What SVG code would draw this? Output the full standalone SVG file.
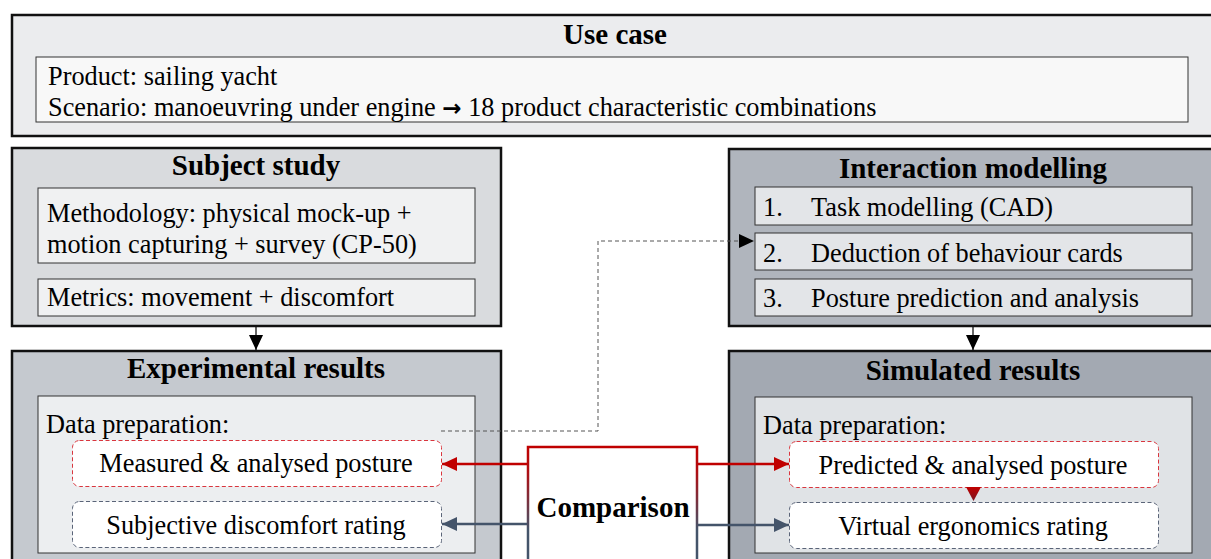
<svg xmlns="http://www.w3.org/2000/svg" width="1211" height="559" viewBox="0 0 1211 559">
<defs>
<style>
text{font-family:"Liberation Serif","Times New Roman",serif}
.outer{stroke:#111;stroke-width:2.5}
.inner{stroke:#333;stroke-width:1}
.ttl{font-weight:bold;font-size:29px;fill:#000;text-anchor:middle}
.txt{font-size:26.3px;fill:#000}
.mid{text-anchor:middle}
.rred{fill:#fff;stroke:#d9363e;stroke-width:1;stroke-dasharray:4 2.5}
.rblue{fill:#fff;stroke:#5a6478;stroke-width:1;stroke-dasharray:4 2.5}
</style>
<linearGradient id="cmpGrad" x1="0" y1="446" x2="0" y2="530" gradientUnits="userSpaceOnUse">
<stop offset="0" stop-color="#c00000"/>
<stop offset="0.3" stop-color="#b00d12"/>
<stop offset="1" stop-color="#44546a"/>
</linearGradient>
<linearGradient id="triGrad" x1="0" y1="0" x2="0" y2="1">
<stop offset="0" stop-color="#c00000"/>
<stop offset="1" stop-color="#7a1520"/>
</linearGradient>
<marker id="hRed" markerWidth="16" markerHeight="14" refX="15" refY="7" orient="auto" markerUnits="userSpaceOnUse">
<path d="M0,0 L15,7 L0,14 Z" fill="#c00000"/>
</marker>
<marker id="hBlue" markerWidth="16" markerHeight="14" refX="15" refY="7" orient="auto" markerUnits="userSpaceOnUse">
<path d="M0,0 L15,7 L0,14 Z" fill="#44546a"/>
</marker>
<marker id="hBlack" markerWidth="16" markerHeight="14" refX="15" refY="7" orient="auto" markerUnits="userSpaceOnUse">
<path d="M0,0 L15,7 L0,14 Z" fill="#000"/>
</marker>
</defs>
<rect width="1211" height="559" fill="#fff"/>
<g font-family="'Liberation Serif', 'Times New Roman', serif">
<g id="use-case">
<rect class="outer" x="12" y="15" width="1210" height="121" fill="#ebecee"/>
<text class="ttl" x="615" y="44">Use case</text>
<rect class="inner" x="36" y="57" width="1152" height="65" fill="#f8f8f8"/>
<text class="txt" x="48" y="85">Product: sailing yacht</text>
<text class="txt" x="48" y="116">Scenario: manoeuvring under engine <tspan font-family="'DejaVu Sans', sans-serif" font-size="23" font-weight="bold">→</tspan> 18 product characteristic combinations</text>
</g>

<g id="subject-study">
<rect class="outer" x="12" y="148" width="489" height="178" fill="#d9dbde"/>
<text class="ttl" x="256" y="175">Subject study</text>
<rect class="inner" x="38" y="188" width="437" height="75" fill="#f0f1f2"/>
<text class="txt" x="47" y="222">Methodology: physical mock-up +</text>
<text class="txt" x="47" y="253">motion capturing + survey (CP-50)</text>
<rect class="inner" x="38" y="279" width="437" height="37" fill="#f0f1f2"/>
<text class="txt" x="47" y="306">Metrics: movement + discomfort</text>
</g>

<g id="interaction-modelling">
<rect class="outer" x="729" y="149" width="495" height="177" fill="#b0b5bd"/>
<text class="ttl" x="973" y="178">Interaction modelling</text>
<rect class="inner" x="755" y="187" width="437" height="38" fill="#e3e5e8"/>
<text class="txt" x="763" y="216">1.</text><text class="txt" x="811" y="216">Task modelling (CAD)</text>
<rect class="inner" x="755" y="233" width="437" height="37" fill="#e3e5e8"/>
<text class="txt" x="763" y="262">2.</text><text class="txt" x="811" y="262">Deduction of behaviour cards</text>
<rect class="inner" x="755" y="279" width="437" height="37" fill="#e3e5e8"/>
<text class="txt" x="763" y="307">3.</text><text class="txt" x="811" y="307">Posture prediction and analysis</text>
</g>

<g id="experimental-results">
<rect class="outer" x="12" y="351" width="489" height="220" fill="#c5c9cf"/>
<text class="ttl" x="256" y="378">Experimental results</text>
<rect class="inner" x="38" y="396" width="437" height="157" fill="#eceef0"/>
<text class="txt" x="46" y="433">Data preparation:</text>
<rect class="rred" x="72.5" y="440.5" width="369" height="46" rx="7"/>
<text class="txt mid" x="256" y="472">Measured &amp; analysed posture</text>
<rect class="rblue" x="72.5" y="501.5" width="369" height="46" rx="7"/>
<text class="txt mid" x="256" y="534">Subjective discomfort rating</text>
</g>

<g id="simulated-results">
<rect class="outer" x="729" y="351" width="495" height="220" fill="#a3a9b2"/>
<text class="ttl" x="973" y="380">Simulated results</text>
<rect class="inner" x="755" y="397" width="437" height="156" fill="#e0e3e6"/>
<text class="txt" x="763" y="434">Data preparation:</text>
<rect class="rred" x="789.5" y="441.5" width="369" height="46" rx="7"/>
<text class="txt mid" x="973" y="474">Predicted &amp; analysed posture</text>
<rect class="rblue" x="789.5" y="502.5" width="369" height="46" rx="7"/>
<text class="txt mid" x="973" y="535">Virtual ergonomics rating</text>
</g>

<g id="comparison">
<path d="M528,575 V447 H697 V575" fill="#fff" stroke="url(#cmpGrad)" stroke-width="2.5"/>
<text class="ttl" x="613" y="517" font-size="30">Comparison</text>
</g>
</g>
<g id="connectors">
<line x1="256" y1="327" x2="256" y2="350" stroke="#000" stroke-width="1.2" marker-end="url(#hBlack)"/>
<line x1="973" y1="327" x2="973" y2="350" stroke="#000" stroke-width="1.2" marker-end="url(#hBlack)"/>
<polyline points="441,431 598,431 598,241 754,241" fill="none" stroke="#555" stroke-width="1" stroke-dasharray="4 3" marker-end="url(#hBlack)"/>
<line x1="527" y1="464" x2="442" y2="464" stroke="#c00000" stroke-width="2.5" marker-end="url(#hRed)"/>
<line x1="698" y1="464" x2="789" y2="464" stroke="#c00000" stroke-width="2.5" marker-end="url(#hRed)"/>
<line x1="527" y1="524" x2="442" y2="524" stroke="#44546a" stroke-width="2.5" marker-end="url(#hBlue)"/>
<line x1="698" y1="525" x2="789" y2="525" stroke="#44546a" stroke-width="2.5" marker-end="url(#hBlue)"/>
<path d="M966,487 L981,487 L973.5,501 Z" fill="url(#triGrad)"/>
</g>
</svg>
